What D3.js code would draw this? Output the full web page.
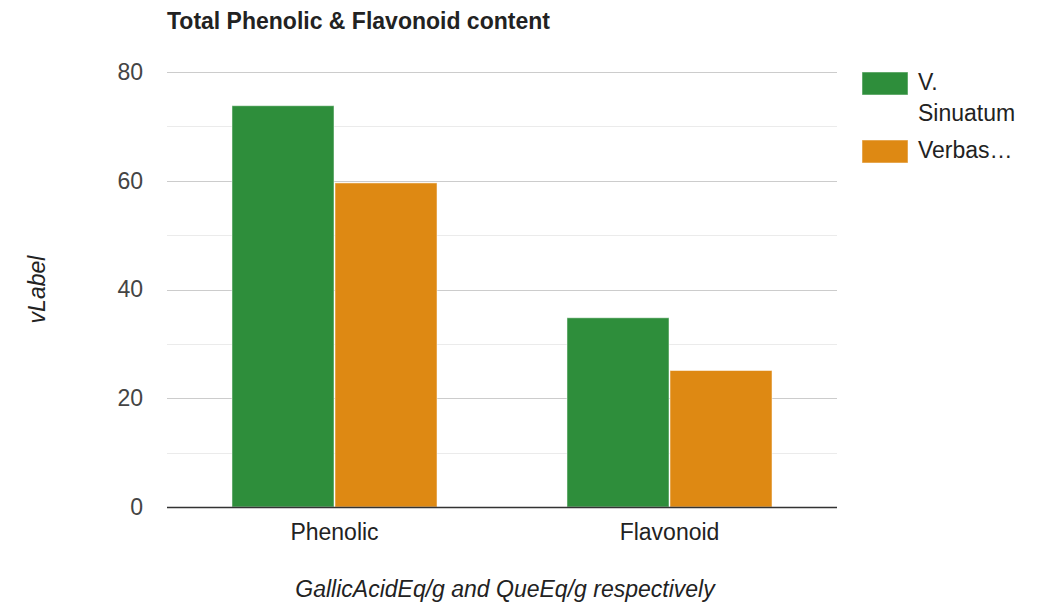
<!DOCTYPE html>
<html>
<head>
<meta charset="utf-8">
<script src="https://cdn.jsdelivr.net/npm/d3@7"></script>
<style>
  html, body { margin: 0; padding: 0; background: #fff; }
  svg { display: block; }
</style>
</head>
<body>
<svg id="chart" width="1043" height="607"></svg>
<script>
// Total phenolic and flavonoid content by extract
const categories = ["Phenolic", "Flavonoid"];
const seriesNames = ["V. Sinuatum", "Verbascum"];
const legendLabels = [["V.", "Sinuatum"], ["Verbas…"]];
const sinuatumValues = [73.8, 34.8];
const verbascumValues = [59.6, 25.1];
const yTicks = [0, 20, 40, 60, 80];
const yMinorTicks = [10, 30, 50, 70];
const colors = ["#2e8e3b", "#de8913"];

const FONT = "'Liberation Sans', Arial, Helvetica, sans-serif";
const FS = 23;

const svg = d3.select("#chart");
const margin = { left: 167, right: 206, top: 72, bottom: 100 };
const width = 1043, height = 607;
const plotW = width - margin.left - margin.right;
const plotH = height - margin.top - margin.bottom;

const g = svg.append("g").attr("transform", `translate(${margin.left},${margin.top})`);

const x = d3.scaleBand().domain(categories).range([0, plotW]).paddingInner(0.385).paddingOuter(0.1925);
const xSub = d3.scaleBand().domain(seriesNames).range([0, x.bandwidth()]).padding(0);
const y = d3.scaleLinear().domain([0, 80]).range([plotH, 0]);

// gridlines
g.selectAll("line.minor").data(yMinorTicks).join("line")
  .attr("class", "minor")
  .attr("x1", 0).attr("x2", plotW)
  .attr("y1", d => Math.round(y(d)) + 0.5).attr("y2", d => Math.round(y(d)) + 0.5)
  .attr("stroke", "#ebebeb").attr("stroke-width", 1);
g.selectAll("line.major").data(yTicks.filter(d => d !== 0)).join("line")
  .attr("class", "major")
  .attr("x1", 0).attr("x2", plotW)
  .attr("y1", d => Math.round(y(d)) + 0.5).attr("y2", d => Math.round(y(d)) + 0.5)
  .attr("stroke", "#cccccc").attr("stroke-width", 1);

// y axis tick labels
const yAxis = d3.axisLeft(y).tickValues(yTicks).tickSize(0).tickPadding(24);
const yg = g.append("g").call(yAxis);
yg.select(".domain").remove();
yg.selectAll("text")
  .attr("font-family", FONT).attr("font-size", FS).attr("fill", "#444");

// bars
const rows = categories.map((c, i) => ({ cat: c, vals: [sinuatumValues[i], verbascumValues[i]] }));
const groups = g.selectAll("g.grp").data(rows).join("g")
  .attr("class", "grp")
  .attr("transform", d => `translate(${x(d.cat)},0)`);
groups.selectAll("rect").data(d => d.vals.map((v, j) => ({ v, s: seriesNames[j], j }))).join("rect")
  .attr("x", d => xSub(d.s) + 0.5)
  .attr("width", xSub.bandwidth() - 1)
  .attr("y", d => y(d.v))
  .attr("height", d => plotH - y(d.v))
  .attr("fill", d => colors[d.j])
  .attr("stroke", "#ffffff").attr("stroke-opacity", 0.5).attr("stroke-width", 1);

// baseline
g.append("line")
  .attr("x1", 0).attr("x2", plotW)
  .attr("y1", plotH + 0.5).attr("y2", plotH + 0.5)
  .attr("stroke", "#333").attr("stroke-width", 1.5);

// x axis tick labels
const xAxis = d3.axisBottom(x).tickSize(0).tickPadding(17);
const xg = g.append("g").attr("transform", `translate(0,${plotH})`).call(xAxis);
xg.select(".domain").remove();
xg.selectAll("text")
  .attr("font-family", FONT).attr("font-size", FS).attr("fill", "#222");

// title
svg.append("text")
  .attr("x", 167).attr("y", 28.5)
  .attr("font-family", FONT)
  .attr("font-weight", "bold").attr("font-size", FS).attr("fill", "#222")
  .text("Total Phenolic & Flavonoid content");

// axis titles
svg.append("text")
  .attr("x", margin.left + plotW / 2 + 3).attr("y", 597)
  .attr("text-anchor", "middle")
  .attr("font-family", FONT)
  .attr("font-style", "italic").attr("font-size", FS).attr("fill", "#222")
  .text("GallicAcidEq/g and QueEq/g respectively");

svg.append("text")
  .attr("transform", `translate(45,${margin.top + plotH / 2}) rotate(-90)`)
  .attr("text-anchor", "middle")
  .attr("font-family", FONT)
  .attr("font-style", "italic").attr("font-size", FS).attr("fill", "#222")
  .text("vLabel");

// legend
const legend = svg.append("g").attr("transform", "translate(862,72)");
const lg = legend.selectAll("g").data(seriesNames).join("g")
  .attr("transform", (d, i) => `translate(0,${i * 68})`);
lg.append("rect")
  .attr("width", 46).attr("height", 23)
  .attr("fill", (d, i) => colors[i])
  .attr("stroke", "#fff").attr("stroke-opacity", 0.5);
lg.each(function (d, i) {
  const t = d3.select(this).append("text")
    .attr("font-family", FONT).attr("font-size", FS).attr("fill", "#222");
  legendLabels[i].forEach((line, k) => {
    t.append("tspan").attr("x", 56).attr("y", 18 + k * 31).text(line);
  });
});
</script>
</body>
</html>
